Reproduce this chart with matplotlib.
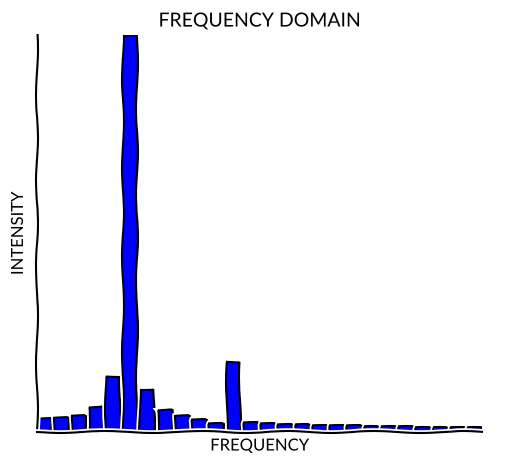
import numpy as np
import matplotlib
matplotlib.use("Agg")
from matplotlib import pyplot as plt

# frequency bins and their magnitudes (peak = 1)
freq_bins = list(range(26))
intensity = [0.033, 0.035, 0.040, 0.063, 0.141, 1.0, 0.109, 0.056, 0.040, 0.030,
             0.020, 0.177, 0.023, 0.020, 0.018, 0.017, 0.016, 0.015, 0.014, 0.013,
             0.012, 0.012, 0.011, 0.010, 0.010, 0.009]

plt.xkcd()
plt.rcParams['font.family'] = ['Lato', 'DejaVu Sans']

fig = plt.figure(figsize=(5.22, 4.65), dpi=100)
ax = fig.add_axes([0.071, 0.071, 0.852, 0.854])
ax.bar(freq_bins, intensity, width=0.8, color='blue', edgecolor='black', linewidth=1.5)
ax.set_xlim(-0.4, 25.4)
ax.set_ylim(0, max(intensity))
ax.spines['right'].set_visible(False)
ax.spines['top'].set_visible(False)
ax.set_xticks([])
ax.set_yticks([])
ax.set_title('FREQUENCY DOMAIN', fontsize=14)
ax.set_xlabel('FREQUENCY', fontsize=12, labelpad=4)
ax.set_ylabel('INTENSITY', fontsize=12, labelpad=8)

fig.savefig('out.png', dpi=100)
